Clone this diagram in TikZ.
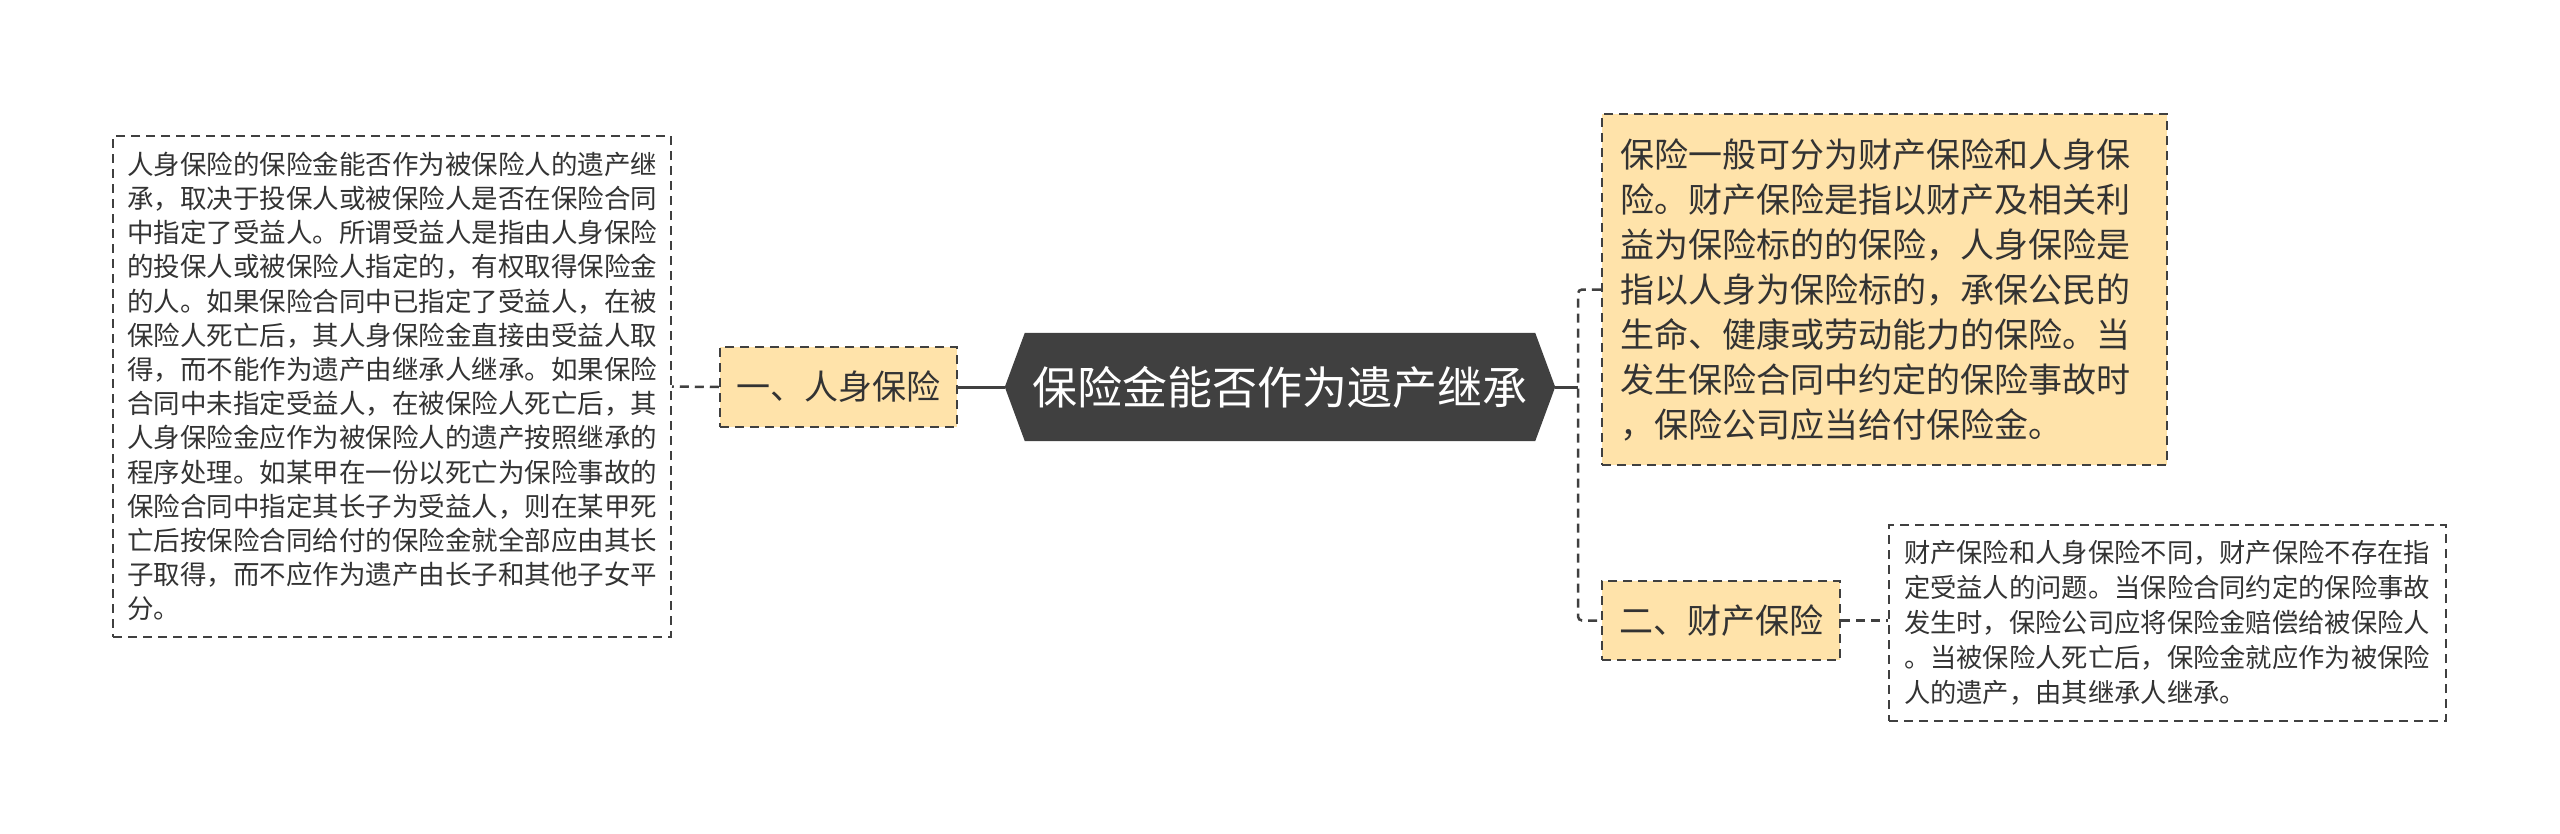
\documentclass[tikz,border=0pt]{standalone}
\usepackage{fontspec}
\setmainfont{Noto Sans CJK SC}
\definecolor{darkc}{HTML}{404040}
\definecolor{boxfill}{HTML}{FFE3AA}
\definecolor{txt}{HTML}{333333}
\begin{document}
\begin{tikzpicture}[x=1pt,y=-1pt,
  dsh/.style={dash pattern=on 9pt off 6pt},
  leafbox/.style={draw=darkc, line width=2pt, dsh, text=txt, align=left, inner ysep=0pt},
  branchbox/.style={draw=darkc, line width=2.5pt, dsh, fill=boxfill, text=txt, inner sep=0pt,
     font=\fontsize{34}{40}\selectfont},
  link/.style={draw=darkc, line width=3pt},
  dlink/.style={draw=darkc, line width=2.5pt, dsh},
]
\useasboundingbox (0,0) rectangle (2560,833);
% center
\node[minimum width=550pt, minimum height=108pt, inner sep=0pt] (c) at (1280,387) {};
\fill[darkc] (c.west) -- ([xshift=20pt]c.north west) -- ([xshift=-20pt]c.north east) -- (c.east)
  -- ([xshift=-20pt]c.south east) -- ([xshift=20pt]c.south west) -- cycle;
\node[text=white, font=\fontsize{45}{50}\selectfont, inner sep=0pt] (ct) at (c.center) {保险金能否作为遗产继承};
% left branch
\node[branchbox, minimum width=237pt, minimum height=80pt] (b1) at (838.5,387) {一、人身保险};
\node[leafbox, text width=530pt, inner xsep=14pt, minimum height=501pt,
  font=\fontsize{26.5}{34.2}\selectfont] (l1) at (392,386.5) {人身保险的保险金能否作为被保险人的遗产继\\
承，取决于投保人或被保险人是否在保险合同\\
中指定了受益人。所谓受益人是指由人身保险\\
的投保人或被保险人指定的，有权取得保险金\\
的人。如果保险合同中已指定了受益人，在被\\
保险人死亡后，其人身保险金直接由受益人取\\
得，而不能作为遗产由继承人继承。如果保险\\
合同中未指定受益人，在被保险人死亡后，其\\
人身保险金应作为被保险人的遗产按照继承的\\
程序处理。如某甲在一份以死亡为保险事故的\\
保险合同中指定其长子为受益人，则在某甲死\\
亡后按保险合同给付的保险金就全部应由其长\\
子取得，而不应作为遗产由长子和其他子女平\\
分。};
% right top
\node[leafbox, fill=boxfill, line width=2.5pt, text width=529pt, inner xsep=18pt, minimum height=351pt,
  font=\fontsize{34}{45}\selectfont] (t1) at (1884.5,289.5) {保险一般可分为财产保险和人身保\\
险。财产保险是指以财产及相关利\\
益为保险标的的保险，人身保险是\\
指以人身为保险标的，承保公民的\\
生命、健康或劳动能力的保险。当\\
发生保险合同中约定的保险事故时\\
，保险公司应当给付保险金。};
% right bottom
\node[branchbox, minimum width=238pt, minimum height=79pt] (b2) at (1721,620.5) {二、财产保险};
\node[leafbox, text width=527pt, inner xsep=15pt, minimum height=196pt,
  font=\fontsize{26.3}{35}\selectfont] (l2) at (2167.5,623) {财产保险和人身保险不同，财产保险不存在指\\
定受益人的问题。当保险合同约定的保险事故\\
发生时，保险公司应将保险金赔偿给被保险人\\
。当被保险人死亡后，保险金就应作为被保险\\
人的遗产，由其继承人继承。};
% connectors
\coordinate (jn) at (1578,387);
\draw[link] (c.west) -- (b1.east);
\draw[dlink] (b1.west) -- (l1.east);
\draw[link] (c.east) -- (jn);
\draw[dlink, rounded corners=4pt] (t1.west) -| (jn) |- (b2.west);
\draw[dlink] (b2.east) -- (l2.west |- b2.east);
\end{tikzpicture}
\end{document}
